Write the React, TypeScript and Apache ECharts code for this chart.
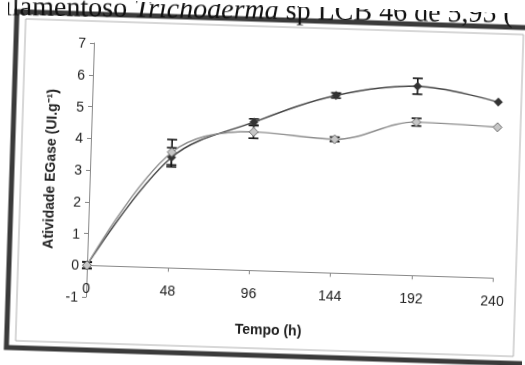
import { useEffect, useRef } from "react";
import * as echarts from "echarts";

const hours = [0, 48, 96, 144, 192, 240];
const darkValues = [0, 3.48, 4.67, 5.59, 5.96, 5.54];
const darkErrors = [0.1, 0.3, 0.1, 0.08, 0.25, 0];
const lightValues = [0, 3.64, 4.36, 4.21, 4.83, 4.75];
const lightErrors = [0.1, 0.4, 0.2, 0.07, 0.12, 0];
const xTickStep = 48;
const yMin = -1;
const yMax = 7;
const xAxisTitle = "Tempo (h)";
const yAxisTitle = "Atividade EGase (UI.g⁻¹)";
const captionBefore = "fungo filamentoso ";
const captionItalic = "Trichoderma";
const captionAfter = " sp LCB 46 de 5,95 (";

const SANS = "'Liberation Sans', Arial, sans-serif";
const SERIF = "'Liberation Serif', 'Times New Roman', serif";

export default function App() {
  const ref = useRef<HTMLDivElement>(null);
  useEffect(() => {
    if (!ref.current) return;
    const chart = echarts.init(ref.current, undefined, { renderer: "svg" });
    const errData = (vals: number[], errs: number[]) =>
      hours.map((h, i) => [h, vals[i] - errs[i], vals[i] + errs[i], errs[i]]);
    const renderErr = (_p: any, api: any) => {
      if (api.value(3) <= 0) return { type: "group", children: [] };
      const x = api.value(0);
      const lo = api.coord([x, api.value(1)]);
      const hi = api.coord([x, api.value(2)]);
      const w = 5;
      const st = { stroke: "#151515", lineWidth: 1.6 };
      return {
        type: "group",
        children: [
          { type: "line", shape: { x1: lo[0], y1: lo[1], x2: hi[0], y2: hi[1] }, style: st },
          { type: "line", shape: { x1: lo[0] - w, y1: lo[1], x2: lo[0] + w, y2: lo[1] }, style: st },
          { type: "line", shape: { x1: hi[0] - w, y1: hi[1], x2: hi[0] + w, y2: hi[1] }, style: st },
        ],
      };
    };
    const captionStyle = { fontFamily: SERIF, fontSize: 28, fill: "#111", lineHeight: 30 };
    chart.setOption({
      animation: false,
      backgroundColor: "transparent",
      grid: { left: 87, right: 32, top: 43, bottom: 68 },
      xAxis: {
        type: "value",
        min: 0,
        max: 240,
        interval: xTickStep,
        name: xAxisTitle,
        nameLocation: "middle",
        nameGap: 20,
        nameTextStyle: { fontFamily: SANS, fontSize: 14, fontWeight: "bold", color: "#222", padding: [0, 40, 0, 0] },
        axisLine: { show: true, onZero: true, lineStyle: { color: "#888", width: 1 } },
        axisTick: { show: true, length: 4, inside: false, lineStyle: { color: "#888" } },
        axisLabel: { margin: -16, fontFamily: SANS, fontSize: 14, color: "#222" },
        splitLine: { show: false },
      },
      yAxis: {
        type: "value",
        min: yMin,
        max: yMax,
        interval: 1,
        name: yAxisTitle,
        nameLocation: "middle",
        nameGap: 33,
        nameTextStyle: { fontFamily: SANS, fontSize: 14, fontWeight: "bold", color: "#222" },
        axisLine: { show: true, onZero: false, lineStyle: { color: "#888", width: 1 } },
        axisTick: { show: true, length: 4, inside: false, lineStyle: { color: "#888" } },
        axisLabel: { margin: 8, fontFamily: SANS, fontSize: 14, color: "#222" },
        splitLine: { show: false },
      },
      graphic: [
        {
          type: "rect",
          z: -10,
          shape: { x: 9, y: 14, width: 525, height: 336 },
          style: { fill: "#fff", stroke: "#3a3a3a", lineWidth: 5 },
        },
        {
          type: "rect",
          z: -9,
          shape: { x: 18, y: 21, width: 498, height: 322 },
          style: { fill: "none", stroke: "#b0b0b0", lineWidth: 1 },
        },
        {
          type: "group",
          z: 10,
          x: 126,
          y: 6,
          rotation: 0.017,
          children: [
            {
              type: "text",
              z: 10,
              x: 0,
              y: 0,
              style: { text: captionBefore, align: "right", verticalAlign: "middle", ...captionStyle },
            },
            {
              type: "text",
              z: 10,
              x: 0,
              y: 0,
              style: {
                text: "{i|" + captionItalic + "}{n|" + captionAfter + "}",
                align: "left",
                verticalAlign: "middle",
                rich: {
                  n: captionStyle,
                  i: { ...captionStyle, fontStyle: "italic" },
                },
              },
            },
          ],
        },
      ],
      series: [
        {
          name: "err-dark",
          type: "custom",
          renderItem: renderErr,
          data: errData(darkValues, darkErrors),
          z: 3,
          silent: true,
        },
        {
          name: "err-light",
          type: "custom",
          renderItem: renderErr,
          data: errData(lightValues, lightErrors),
          z: 3,
          silent: true,
        },
        {
          name: "Escuro",
          type: "line",
          data: hours.map((h, i) => [h, darkValues[i]]),
          smooth: 0.35,
          symbol: "diamond",
          symbolSize: 9,
          itemStyle: { color: "#333" },
          lineStyle: { color: "#444", width: 1.4 },
          z: 4,
        },
        {
          name: "Claro",
          type: "line",
          data: hours.map((h, i) => [h, lightValues[i]]),
          smooth: 0.35,
          symbol: "diamond",
          symbolSize: 9,
          itemStyle: { color: "#c6c6c6", borderColor: "#6f6f6f", borderWidth: 1 },
          lineStyle: { color: "#8e8e8e", width: 1.4 },
          z: 4,
        },
      ],
    });
    return () => chart.dispose();
  }, []);
  return (
    <div
      ref={ref}
      style={{
        position: "fixed",
        left: 0,
        top: 0,
        width: 525,
        height: 365,
        transform: "rotate(1.8deg)",
        transformOrigin: "88px 265px",
      }}
    />
  );
}
